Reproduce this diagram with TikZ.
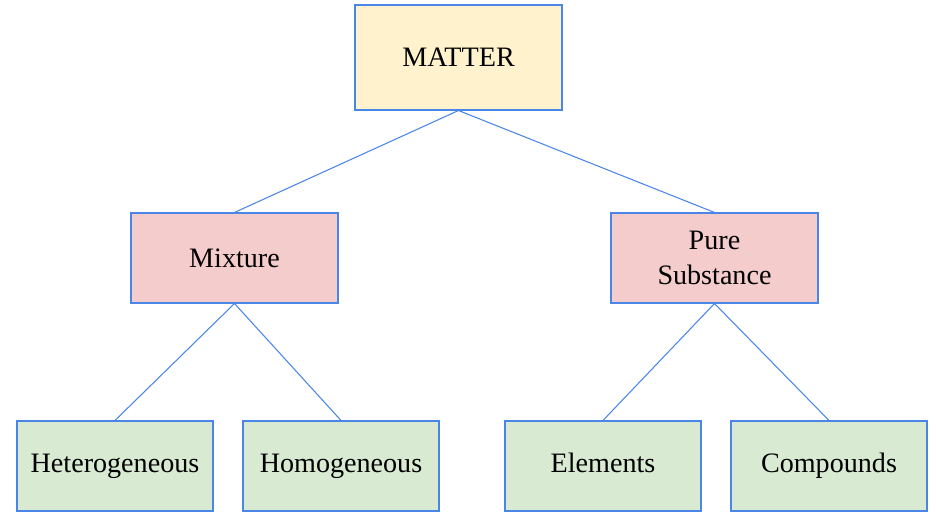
\documentclass[tikz,border=0pt]{standalone}
\usepackage{fontspec}
\setmainfont{Liberation Serif}
\usetikzlibrary{positioning}

\definecolor{topfill}{HTML}{FFF2CC}
\definecolor{midfill}{HTML}{F4CCCC}
\definecolor{lowfill}{HTML}{D9EAD3}
\definecolor{edgeblue}{HTML}{4A86E8}

\tikzstyle{topbox} = [rectangle, minimum width=4.14cm, minimum height=2.1cm, text centered, draw=edgeblue, line width=0.6pt, fill=topfill, font=\fontsize{16}{19}\selectfont]
\tikzstyle{midbox} = [rectangle, minimum width=4.14cm, minimum height=1.8cm, text centered, draw=edgeblue, line width=0.6pt, fill=midfill, align=center, font=\fontsize{16}{20}\selectfont]
\tikzstyle{lowbox} = [rectangle, minimum width=3.92cm, minimum height=1.8cm, text centered, text height=0.9em, text depth=0.11em, draw=edgeblue, line width=0.6pt, fill=lowfill, font=\fontsize{16}{19}\selectfont]
\tikzstyle{link} = [draw=edgeblue, line width=0.6pt]

\begin{document}
\begin{tikzpicture}
			\useasboundingbox (0,0) rectangle (18.72,10.4);
			
			\node (matter) [topbox] at (9.17,9.25) {MATTER};
			\node (mixture) [midbox] at (4.69,5.24) {Mixture};
			\node (pure) [midbox] at (14.29,5.24) {
				Pure \\
				Substance
			};
			\node (hetero) [lowbox] at (2.30,1.08) {Heterogeneous};
			\node (homo) [lowbox] at (6.82,1.08) {Homogeneous};
			\node (elements) [lowbox] at (12.06,1.08) {Elements};
			\node (compounds) [lowbox] at (16.58,1.08) {Compounds};
			
			
			\draw [link] (matter.south) -- (mixture.north);
			\draw [link] (matter.south) -- (pure.north);
			\draw [link] (mixture.south) -- (hetero.north);
			\draw [link] (mixture.south) -- (homo.north);
			\draw [link] (pure.south) -- (elements.north);
			\draw [link] (pure.south) -- (compounds.north);
			
		\end{tikzpicture}
\end{document}
